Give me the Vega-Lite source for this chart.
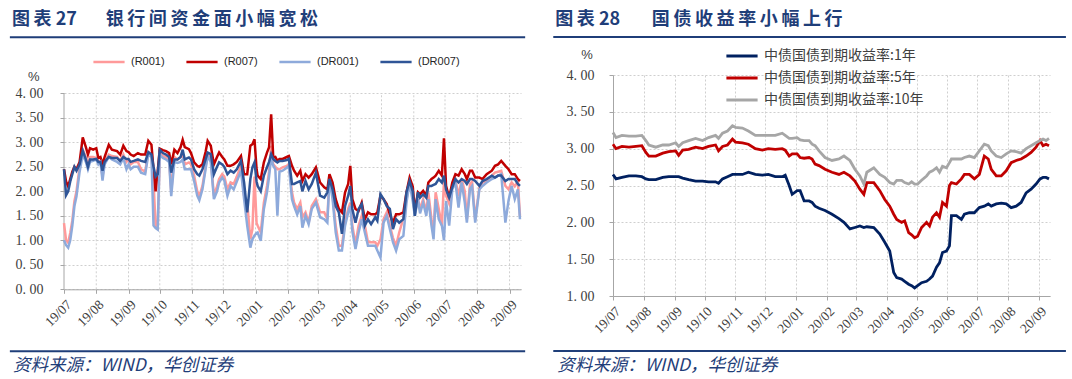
{
"$schema": "https://vega.github.io/schema/vega-lite/v6.json",
"background": "white",
"padding": {"left": 8, "top": 10, "right": 5, "bottom": 0},
"spacing": 25,
"columns": 2,
"align": "none",
"bounds": "full",
"config": {
  "view": {"stroke": null},
  "axis": {"labelFont": "Liberation Serif", "labelFontSize": 14, "labelColor": "#404040", "domainColor": "#a6a6a6", "tickColor": "#a6a6a6", "gridColor": "#cfcfcf", "gridDash": [2, 2], "title": null, "labelOverlap": false},
  "axisX": {"labelOverlap": false, "labelFontSize": 13.5},
  "legend": {"padding": 0}
},
"resolve": {"scale": {"color": "independent", "x": "independent", "y": "independent"}, "legend": {"color": "independent"}},
"concat": [
{
  "width": 457, "height": 214.3,
  "layer": [
    {
      "data": {"values": [{"m":"2019-08-01"},{"m":"2019-09-01"},{"m":"2019-10-01"},{"m":"2019-11-01"},{"m":"2019-12-01"},{"m":"2020-01-01"},{"m":"2020-02-01"},{"m":"2020-03-01"},{"m":"2020-04-01"},{"m":"2020-05-01"},{"m":"2020-06-01"},{"m":"2020-07-01"},{"m":"2020-08-01"},{"m":"2020-09-01"}]},
      "mark": {"type": "rule", "color": "#cfcfcf", "strokeWidth": 1, "strokeDash": [2, 2]},
      "encoding": {"x": {"field": "m", "type": "temporal"}, "y": {"datum": 0, "type": "quantitative"}, "y2": {"datum": 4}}
    },
    {"data": {"values": [{}]}, "mark": {"type": "rule", "color": "#a6a6a6", "strokeWidth": 1},
     "encoding": {"x": {"datum": {"year": 2019, "month": 7, "date": 1, "utc": true}, "type": "temporal"}, "y": {"datum": 0, "type": "quantitative"}, "y2": {"datum": 4}}},
    {
      "data": {"values": [
        {"d":"2019-07-01","R001":1.35,"R007":2.45,"DR001":1.0,"DR007":2.45},
        {"d":"2019-07-03","R001":1.0,"R007":2.2,"DR001":0.9,"DR007":1.92},
        {"d":"2019-07-05","R001":0.95,"R007":2.1,"DR001":0.85,"DR007":2.0},
        {"d":"2019-07-07","R001":1.15,"R007":2.25,"DR001":1.0,"DR007":2.2},
        {"d":"2019-07-09","R001":1.4,"R007":2.4,"DR001":1.3,"DR007":2.35},
        {"d":"2019-07-11","R001":1.8,"R007":2.5,"DR001":1.7,"DR007":2.5},
        {"d":"2019-07-13","R001":2.0,"R007":2.45,"DR001":1.9,"DR007":2.42},
        {"d":"2019-07-16","R001":2.5,"R007":2.6,"DR001":2.4,"DR007":2.55},
        {"d":"2019-07-19","R001":2.85,"R007":3.1,"DR001":2.75,"DR007":2.83},
        {"d":"2019-07-22","R001":2.7,"R007":2.9,"DR001":2.6,"DR007":2.65},
        {"d":"2019-07-24","R001":2.55,"R007":2.75,"DR001":2.45,"DR007":2.5},
        {"d":"2019-07-26","R001":2.7,"R007":2.88,"DR001":2.6,"DR007":2.65},
        {"d":"2019-07-29","R001":2.7,"R007":2.85,"DR001":2.62,"DR007":2.65},
        {"d":"2019-08-01","R001":2.68,"R007":2.88,"DR001":2.65,"DR007":2.66},
        {"d":"2019-08-03","R001":2.6,"R007":2.68,"DR001":2.55,"DR007":2.6},
        {"d":"2019-08-05","R001":2.62,"R007":2.7,"DR001":2.6,"DR007":2.6},
        {"d":"2019-08-07","R001":2.3,"R007":2.55,"DR001":2.22,"DR007":2.42},
        {"d":"2019-08-09","R001":2.6,"R007":2.7,"DR001":2.55,"DR007":2.6},
        {"d":"2019-08-13","R001":2.75,"R007":2.95,"DR001":2.7,"DR007":2.7},
        {"d":"2019-08-16","R001":2.72,"R007":2.85,"DR001":2.65,"DR007":2.68},
        {"d":"2019-08-21","R001":2.7,"R007":2.82,"DR001":2.6,"DR007":2.68},
        {"d":"2019-08-24","R001":2.62,"R007":2.75,"DR001":2.55,"DR007":2.62},
        {"d":"2019-08-27","R001":2.75,"R007":2.93,"DR001":2.68,"DR007":2.7},
        {"d":"2019-08-30","R001":2.6,"R007":2.82,"DR001":2.45,"DR007":2.66},
        {"d":"2019-09-01","R001":2.65,"R007":2.8,"DR001":2.55,"DR007":2.66},
        {"d":"2019-09-03","R001":2.55,"R007":2.75,"DR001":2.45,"DR007":2.6},
        {"d":"2019-09-06","R001":2.6,"R007":2.72,"DR001":2.5,"DR007":2.62},
        {"d":"2019-09-10","R001":2.6,"R007":2.78,"DR001":2.5,"DR007":2.65},
        {"d":"2019-09-13","R001":2.45,"R007":2.75,"DR001":2.38,"DR007":2.62},
        {"d":"2019-09-17","R001":2.4,"R007":2.75,"DR001":2.35,"DR007":2.6},
        {"d":"2019-09-20","R001":2.8,"R007":3.03,"DR001":2.75,"DR007":2.8},
        {"d":"2019-09-23","R001":2.75,"R007":2.95,"DR001":2.7,"DR007":2.75},
        {"d":"2019-09-25","R001":2.2,"R007":2.45,"DR001":1.3,"DR007":2.5},
        {"d":"2019-09-27","R001":1.3,"R007":2.0,"DR001":1.25,"DR007":2.3},
        {"d":"2019-09-29","R001":1.25,"R007":2.4,"DR001":1.22,"DR007":2.35},
        {"d":"2019-10-01","R001":2.8,"R007":2.87,"DR001":2.75,"DR007":2.85},
        {"d":"2019-10-04","R001":2.72,"R007":2.84,"DR001":2.68,"DR007":2.78},
        {"d":"2019-10-07","R001":2.7,"R007":2.82,"DR001":2.65,"DR007":2.75},
        {"d":"2019-10-10","R001":2.65,"R007":2.78,"DR001":2.6,"DR007":2.7},
        {"d":"2019-10-12","R001":2.0,"R007":2.55,"DR001":1.9,"DR007":2.38},
        {"d":"2019-10-15","R001":2.7,"R007":2.85,"DR001":2.6,"DR007":2.65},
        {"d":"2019-10-18","R001":2.65,"R007":2.78,"DR001":2.58,"DR007":2.65},
        {"d":"2019-10-21","R001":2.7,"R007":2.9,"DR001":2.6,"DR007":2.7},
        {"d":"2019-10-23","R001":2.75,"R007":3.05,"DR001":2.65,"DR007":2.85},
        {"d":"2019-10-25","R001":2.55,"R007":2.9,"DR001":2.45,"DR007":2.65},
        {"d":"2019-10-29","R001":2.59,"R007":2.86,"DR001":2.45,"DR007":2.69},
        {"d":"2019-10-31","R001":2.55,"R007":2.78,"DR001":2.45,"DR007":2.65},
        {"d":"2019-11-03","R001":2.32,"R007":2.59,"DR001":2.21,"DR007":2.45},
        {"d":"2019-11-06","R001":2.0,"R007":2.52,"DR001":1.91,"DR007":2.35},
        {"d":"2019-11-08","R001":1.9,"R007":2.5,"DR001":1.82,"DR007":2.32},
        {"d":"2019-11-11","R001":2.11,"R007":2.55,"DR001":2.04,"DR007":2.45},
        {"d":"2019-11-14","R001":2.5,"R007":2.8,"DR001":2.45,"DR007":2.65},
        {"d":"2019-11-16","R001":2.76,"R007":3.03,"DR001":2.72,"DR007":2.79},
        {"d":"2019-11-19","R001":2.66,"R007":2.93,"DR001":2.6,"DR007":2.76},
        {"d":"2019-11-22","R001":1.91,"R007":2.55,"DR001":1.84,"DR007":2.35},
        {"d":"2019-11-25","R001":2.1,"R007":2.7,"DR001":2.0,"DR007":2.5},
        {"d":"2019-11-27","R001":2.25,"R007":2.79,"DR001":2.18,"DR007":2.59},
        {"d":"2019-11-30","R001":2.35,"R007":2.7,"DR001":2.28,"DR007":2.55},
        {"d":"2019-12-02","R001":2.3,"R007":2.65,"DR001":2.22,"DR007":2.5},
        {"d":"2019-12-05","R001":2.04,"R007":2.52,"DR001":1.91,"DR007":2.35},
        {"d":"2019-12-08","R001":2.18,"R007":2.52,"DR001":2.11,"DR007":2.42},
        {"d":"2019-12-11","R001":2.15,"R007":2.55,"DR001":2.04,"DR007":2.38},
        {"d":"2019-12-14","R001":2.3,"R007":2.6,"DR001":2.2,"DR007":2.45},
        {"d":"2019-12-18","R001":2.52,"R007":2.72,"DR001":2.42,"DR007":2.62},
        {"d":"2019-12-21","R001":1.91,"R007":2.35,"DR001":1.84,"DR007":2.18},
        {"d":"2019-12-24","R001":1.77,"R007":2.35,"DR001":1.3,"DR007":1.57},
        {"d":"2019-12-27","R001":1.02,"R007":2.93,"DR001":0.85,"DR007":2.25},
        {"d":"2019-12-29","R001":1.23,"R007":2.96,"DR001":1.02,"DR007":2.49},
        {"d":"2019-12-31","R001":2.3,"R007":3.06,"DR001":1.1,"DR007":2.59},
        {"d":"2020-01-02","R001":1.35,"R007":2.45,"DR001":1.15,"DR007":2.2},
        {"d":"2020-01-03","R001":1.3,"R007":2.32,"DR001":1.16,"DR007":2.11},
        {"d":"2020-01-06","R001":1.16,"R007":2.25,"DR001":0.99,"DR007":2.0},
        {"d":"2020-01-09","R001":1.77,"R007":2.59,"DR001":1.64,"DR007":2.32},
        {"d":"2020-01-12","R001":2.11,"R007":2.79,"DR001":1.98,"DR007":2.49},
        {"d":"2020-01-14","R001":2.4,"R007":2.9,"DR001":2.3,"DR007":2.6},
        {"d":"2020-01-16","R001":2.93,"R007":3.57,"DR001":2.69,"DR007":2.76},
        {"d":"2020-01-18","R001":2.55,"R007":2.69,"DR001":2.52,"DR007":2.66},
        {"d":"2020-01-20","R001":2.5,"R007":2.7,"DR001":2.45,"DR007":2.62},
        {"d":"2020-01-22","R001":2.45,"R007":2.62,"DR001":1.5,"DR007":2.59},
        {"d":"2020-01-24","R001":2.45,"R007":2.66,"DR001":2.4,"DR007":2.62},
        {"d":"2020-01-27","R001":2.49,"R007":2.66,"DR001":2.42,"DR007":2.62},
        {"d":"2020-01-31","R001":2.52,"R007":2.7,"DR001":2.48,"DR007":2.64},
        {"d":"2020-02-02","R001":2.55,"R007":2.72,"DR001":2.52,"DR007":2.66},
        {"d":"2020-02-05","R001":1.98,"R007":2.52,"DR001":1.84,"DR007":2.15},
        {"d":"2020-02-07","R001":1.77,"R007":2.42,"DR001":1.7,"DR007":2.15},
        {"d":"2020-02-10","R001":1.64,"R007":2.32,"DR001":1.53,"DR007":2.18},
        {"d":"2020-02-13","R001":1.77,"R007":2.42,"DR001":1.7,"DR007":2.21},
        {"d":"2020-02-15","R001":1.47,"R007":2.21,"DR001":1.26,"DR007":2.0},
        {"d":"2020-02-18","R001":1.57,"R007":2.35,"DR001":1.5,"DR007":2.21},
        {"d":"2020-02-21","R001":1.36,"R007":2.28,"DR001":1.33,"DR007":2.04},
        {"d":"2020-02-24","R001":1.7,"R007":2.35,"DR001":1.64,"DR007":2.15},
        {"d":"2020-02-28","R001":1.84,"R007":2.49,"DR001":1.77,"DR007":2.38},
        {"d":"2020-03-03","R001":1.57,"R007":2.18,"DR001":1.47,"DR007":1.91},
        {"d":"2020-03-07","R001":1.57,"R007":2.08,"DR001":1.43,"DR007":1.87},
        {"d":"2020-03-10","R001":1.43,"R007":2.04,"DR001":1.36,"DR007":1.98},
        {"d":"2020-03-12","R001":2.32,"R007":2.35,"DR001":2.25,"DR007":2.25},
        {"d":"2020-03-15","R001":1.91,"R007":2.18,"DR001":1.84,"DR007":2.04},
        {"d":"2020-03-18","R001":1.3,"R007":1.84,"DR001":1.16,"DR007":1.7},
        {"d":"2020-03-21","R001":0.89,"R007":1.64,"DR001":0.79,"DR007":1.57},
        {"d":"2020-03-24","R001":0.89,"R007":1.57,"DR001":0.79,"DR007":1.13},
        {"d":"2020-03-27","R001":1.36,"R007":1.98,"DR001":1.3,"DR007":1.7},
        {"d":"2020-03-30","R001":1.64,"R007":2.15,"DR001":1.57,"DR007":1.91},
        {"d":"2020-04-01","R001":1.77,"R007":2.52,"DR001":1.7,"DR007":2.11},
        {"d":"2020-04-03","R001":1.3,"R007":1.84,"DR001":1.19,"DR007":1.64},
        {"d":"2020-04-06","R001":0.92,"R007":1.64,"DR001":0.82,"DR007":1.36},
        {"d":"2020-04-09","R001":1.3,"R007":1.6,"DR001":1.16,"DR007":1.64},
        {"d":"2020-04-12","R001":1.5,"R007":1.77,"DR001":1.43,"DR007":1.74},
        {"d":"2020-04-15","R001":1.3,"R007":1.43,"DR001":1.16,"DR007":1.3},
        {"d":"2020-04-18","R001":0.96,"R007":1.57,"DR001":0.89,"DR007":1.43},
        {"d":"2020-04-21","R001":0.96,"R007":1.53,"DR001":0.89,"DR007":1.33},
        {"d":"2020-04-25","R001":0.96,"R007":1.53,"DR001":0.89,"DR007":1.47},
        {"d":"2020-04-27","R001":0.89,"R007":1.57,"DR001":0.79,"DR007":1.4},
        {"d":"2020-04-30","R001":1.02,"R007":1.91,"DR001":0.65,"DR007":1.94},
        {"d":"2020-05-03","R001":1.43,"R007":1.84,"DR001":1.36,"DR007":1.84},
        {"d":"2020-05-06","R001":1.57,"R007":1.74,"DR001":1.5,"DR007":1.7},
        {"d":"2020-05-09","R001":1.3,"R007":1.53,"DR001":1.23,"DR007":1.64},
        {"d":"2020-05-12","R001":1.05,"R007":1.36,"DR001":0.96,"DR007":1.23},
        {"d":"2020-05-15","R001":0.89,"R007":1.53,"DR001":0.79,"DR007":1.43},
        {"d":"2020-05-18","R001":1.16,"R007":1.53,"DR001":1.02,"DR007":1.36},
        {"d":"2020-05-22","R001":1.45,"R007":1.57,"DR001":1.09,"DR007":1.43},
        {"d":"2020-05-25","R001":1.84,"R007":1.98,"DR001":1.77,"DR007":1.98},
        {"d":"2020-05-28","R001":2.2,"R007":2.28,"DR001":2.18,"DR007":2.21},
        {"d":"2020-05-31","R001":1.9,"R007":2.1,"DR001":1.8,"DR007":2.0},
        {"d":"2020-06-02","R001":1.55,"R007":1.6,"DR001":1.5,"DR007":1.5},
        {"d":"2020-06-05","R001":1.84,"R007":1.98,"DR001":1.84,"DR007":1.98},
        {"d":"2020-06-07","R001":1.64,"R007":1.94,"DR001":1.55,"DR007":1.87},
        {"d":"2020-06-10","R001":1.84,"R007":2.01,"DR001":1.77,"DR007":1.94},
        {"d":"2020-06-13","R001":1.57,"R007":1.91,"DR001":1.5,"DR007":1.87},
        {"d":"2020-06-15","R001":1.98,"R007":2.18,"DR001":1.84,"DR007":2.11},
        {"d":"2020-06-18","R001":1.43,"R007":2.25,"DR001":1.3,"DR007":2.11},
        {"d":"2020-06-20","R001":1.2,"R007":2.28,"DR001":1.02,"DR007":2.13},
        {"d":"2020-06-22","R001":1.98,"R007":2.32,"DR001":1.84,"DR007":2.15},
        {"d":"2020-06-25","R001":1.64,"R007":2.42,"DR001":1.43,"DR007":2.25},
        {"d":"2020-06-28","R001":1.3,"R007":2.32,"DR001":1.3,"DR007":2.18},
        {"d":"2020-06-30","R001":2.2,"R007":3.08,"DR001":1.0,"DR007":2.32},
        {"d":"2020-07-02","R001":1.91,"R007":2.11,"DR001":1.8,"DR007":2.04},
        {"d":"2020-07-05","R001":1.75,"R007":1.87,"DR001":1.3,"DR007":1.87},
        {"d":"2020-07-08","R001":2.1,"R007":2.18,"DR001":2.04,"DR007":2.08},
        {"d":"2020-07-11","R001":2.25,"R007":2.35,"DR001":2.18,"DR007":2.25},
        {"d":"2020-07-14","R001":1.9,"R007":2.32,"DR001":1.67,"DR007":2.18},
        {"d":"2020-07-17","R001":2.25,"R007":2.45,"DR001":2.18,"DR007":2.25},
        {"d":"2020-07-20","R001":2.0,"R007":2.35,"DR001":1.77,"DR007":2.21},
        {"d":"2020-07-22","R001":1.43,"R007":2.25,"DR001":1.36,"DR007":2.15},
        {"d":"2020-07-25","R001":2.15,"R007":2.42,"DR001":2.05,"DR007":2.25},
        {"d":"2020-07-27","R001":2.2,"R007":2.42,"DR001":2.11,"DR007":2.25},
        {"d":"2020-07-30","R001":1.43,"R007":2.28,"DR001":1.36,"DR007":2.21},
        {"d":"2020-08-03","R001":2.07,"R007":2.28,"DR001":2.04,"DR007":2.11},
        {"d":"2020-08-06","R001":2.18,"R007":2.25,"DR001":2.11,"DR007":2.21},
        {"d":"2020-08-10","R001":2.21,"R007":2.35,"DR001":2.18,"DR007":2.25},
        {"d":"2020-08-15","R001":2.32,"R007":2.42,"DR001":2.25,"DR007":2.32},
        {"d":"2020-08-18","R001":2.38,"R007":2.52,"DR001":2.28,"DR007":2.28},
        {"d":"2020-08-21","R001":2.4,"R007":2.55,"DR001":2.32,"DR007":2.32},
        {"d":"2020-08-24","R001":2.42,"R007":2.62,"DR001":2.35,"DR007":2.32},
        {"d":"2020-08-28","R001":2.11,"R007":2.52,"DR001":1.36,"DR007":2.21},
        {"d":"2020-08-31","R001":2.04,"R007":2.45,"DR001":1.81,"DR007":2.25},
        {"d":"2020-09-03","R001":2.18,"R007":2.35,"DR001":2.11,"DR007":2.25},
        {"d":"2020-09-06","R001":2.1,"R007":2.35,"DR001":1.84,"DR007":2.25},
        {"d":"2020-09-09","R001":2.2,"R007":2.25,"DR001":2.04,"DR007":2.15},
        {"d":"2020-09-11","R001":1.5,"R007":2.21,"DR001":1.43,"DR007":2.11}
      ]},
      "transform": [{"fold": ["R001", "R007", "DR001", "DR007"], "as": ["s", "v"]}],
      "mark": {"type": "line", "strokeWidth": 2.5},
      "encoding": {
        "x": {"field": "d", "type": "temporal",
          "scale": {"type": "utc", "nice": false, "domain": [{"year": 2019, "month": 7, "date": 1, "utc": true}, {"year": 2020, "month": 9, "date": 12, "utc": true}]},
          "axis": {"tickCount": {"interval": "month", "step": 1}, "format": "%y/%m", "labelAngle": -45, "labelOverlap": false, "grid": false, "tickSize": 4, "labelPadding": 4}},
        "y": {"field": "v", "type": "quantitative",
          "scale": {"domain": [0, 4.3735], "nice": false, "zero": false},
          "axis": {"tickCount": 9, "labelExpr": "replace(format(datum.value, '.2f'), '.', '. ')", "grid": true, "domain": false, "tickSize": 4, "labelPadding": 17}},
        "color": {"field": "s", "type": "nominal",
          "scale": {"domain": ["R001", "R007", "DR001", "DR007"], "range": ["#ff9a9a", "#c00000", "#8eaadb", "#2f5597"]},
          "legend": {"orient": "none", "legendX": 37, "legendY": -21, "direction": "horizontal", "gridAlign": "none", "title": null, "symbolType": "M-2.4,0H2.4", "symbolSize": 169, "symbolStrokeWidth": 2.5, "labelExpr": "'(' + datum.label + ')'", "labelFont": "Liberation Sans", "labelFontSize": 11, "labelColor": "#262626", "labelOffset": 14, "columnPadding": 16}}
      }
    },
    {"data": {"values": [{}]}, "mark": {"type": "text", "align": "left", "baseline": "alphabetic", "font": "Noto Sans CJK SC", "fontWeight": "bold", "fontSize": 18, "color": "#1f3e79", "text": "图\u2009表 27"},
     "encoding": {"x": {"datum": {"year": 2019, "month": 5, "date": 12, "utc": true}, "type": "temporal"}, "y": {"datum": 5.39, "type": "quantitative"}}},
    {"data": {"values": [{}]}, "mark": {"type": "text", "align": "left", "baseline": "alphabetic", "font": "Noto Sans CJK SC", "fontWeight": "bold", "fontSize": 18, "color": "#1f3e79", "text": "银\u2009行\u2009间\u2009资\u2009金\u2009面\u2009小\u2009幅\u2009宽\u2009松"},
     "encoding": {"x": {"datum": {"year": 2019, "month": 8, "date": 10, "utc": true}, "type": "temporal"}, "y": {"datum": 5.39, "type": "quantitative"}}},
    {"data": {"values": [{}]}, "mark": {"type": "rule", "color": "#1f3e79", "strokeWidth": 2},
     "encoding": {"x": {"datum": {"year": 2019, "month": 5, "date": 10, "utc": true}, "type": "temporal"}, "x2": {"datum": {"year": 2020, "month": 9, "date": 16, "utc": true}}, "y": {"datum": 5.143, "type": "quantitative"}}},
    {"data": {"values": [{}]}, "mark": {"type": "rule", "color": "#1f3e79", "strokeWidth": 2},
     "encoding": {"x": {"datum": {"year": 2019, "month": 5, "date": 10, "utc": true}, "type": "temporal"}, "x2": {"datum": {"year": 2020, "month": 9, "date": 16, "utc": true}}, "y": {"datum": -1.265, "type": "quantitative"}}},
    {"data": {"values": [{}]}, "mark": {"type": "text", "align": "left", "baseline": "alphabetic", "font": "Noto Sans CJK SC", "fontStyle": "italic", "fontSize": 17.5, "color": "#1f3e79", "text": "资料来源：WIND，华创证券"},
     "encoding": {"x": {"datum": {"year": 2019, "month": 5, "date": 13, "utc": true}, "type": "temporal"}, "y": {"datum": -1.673, "type": "quantitative"}}},
    {"data": {"values": [{}]}, "mark": {"type": "text", "align": "center", "baseline": "middle", "font": "Liberation Sans", "fontSize": 13, "color": "#404040", "text": "%"},
     "encoding": {"x": {"datum": {"year": 2019, "month": 6, "date": 2, "utc": true}, "type": "temporal"}, "y": {"datum": 4.33, "type": "quantitative"}}}
  ]
},
{
  "width": 437, "height": 221,
  "layer": [
    {
      "data": {"values": [
        {"d":"2019-07-01","Y1":2.65,"Y5":3.06,"Y10":3.22},
        {"d":"2019-07-04","Y1":2.59,"Y5":3.0,"Y10":3.15},
        {"d":"2019-07-10","Y1":2.61,"Y5":3.03,"Y10":3.18},
        {"d":"2019-07-17","Y1":2.63,"Y5":3.02,"Y10":3.17},
        {"d":"2019-07-24","Y1":2.63,"Y5":3.03,"Y10":3.17},
        {"d":"2019-07-30","Y1":2.62,"Y5":3.04,"Y10":3.18},
        {"d":"2019-08-03","Y1":2.59,"Y5":2.95,"Y10":3.11},
        {"d":"2019-08-06","Y1":2.58,"Y5":2.9,"Y10":3.05},
        {"d":"2019-08-13","Y1":2.58,"Y5":2.9,"Y10":3.02},
        {"d":"2019-08-20","Y1":2.61,"Y5":2.94,"Y10":3.05},
        {"d":"2019-08-26","Y1":2.62,"Y5":2.96,"Y10":3.05},
        {"d":"2019-09-02","Y1":2.62,"Y5":2.97,"Y10":3.08},
        {"d":"2019-09-05","Y1":2.62,"Y5":2.91,"Y10":3.03},
        {"d":"2019-09-09","Y1":2.6,"Y5":2.98,"Y10":3.08},
        {"d":"2019-09-15","Y1":2.58,"Y5":2.99,"Y10":3.11},
        {"d":"2019-09-22","Y1":2.56,"Y5":3.02,"Y10":3.14},
        {"d":"2019-09-29","Y1":2.56,"Y5":3.0,"Y10":3.11},
        {"d":"2019-10-05","Y1":2.55,"Y5":3.03,"Y10":3.15},
        {"d":"2019-10-12","Y1":2.55,"Y5":3.05,"Y10":3.18},
        {"d":"2019-10-15","Y1":2.53,"Y5":2.97,"Y10":3.14},
        {"d":"2019-10-19","Y1":2.59,"Y5":3.03,"Y10":3.21},
        {"d":"2019-10-24","Y1":2.62,"Y5":3.05,"Y10":3.24},
        {"d":"2019-10-29","Y1":2.65,"Y5":3.13,"Y10":3.31},
        {"d":"2019-11-01","Y1":2.65,"Y5":3.09,"Y10":3.29},
        {"d":"2019-11-08","Y1":2.65,"Y5":3.08,"Y10":3.28},
        {"d":"2019-11-14","Y1":2.68,"Y5":3.06,"Y10":3.24},
        {"d":"2019-11-21","Y1":2.65,"Y5":3.0,"Y10":3.18},
        {"d":"2019-11-28","Y1":2.64,"Y5":2.98,"Y10":3.18},
        {"d":"2019-12-04","Y1":2.65,"Y5":3.0,"Y10":3.18},
        {"d":"2019-12-11","Y1":2.62,"Y5":2.99,"Y10":3.18},
        {"d":"2019-12-18","Y1":2.62,"Y5":3.0,"Y10":3.21},
        {"d":"2019-12-21","Y1":2.64,"Y5":2.98,"Y10":3.18},
        {"d":"2019-12-25","Y1":2.5,"Y5":2.9,"Y10":3.14},
        {"d":"2019-12-28","Y1":2.38,"Y5":2.93,"Y10":3.14},
        {"d":"2020-01-02","Y1":2.43,"Y5":2.93,"Y10":3.15},
        {"d":"2020-01-05","Y1":2.43,"Y5":2.88,"Y10":3.12},
        {"d":"2020-01-09","Y1":2.29,"Y5":2.87,"Y10":3.11},
        {"d":"2020-01-14","Y1":2.29,"Y5":2.88,"Y10":3.11},
        {"d":"2020-01-17","Y1":2.27,"Y5":2.86,"Y10":3.06},
        {"d":"2020-01-20","Y1":2.22,"Y5":2.79,"Y10":3.04},
        {"d":"2020-01-24","Y1":2.19,"Y5":2.77,"Y10":2.97},
        {"d":"2020-01-30","Y1":2.16,"Y5":2.72,"Y10":2.88},
        {"d":"2020-02-06","Y1":2.11,"Y5":2.68,"Y10":2.84},
        {"d":"2020-02-13","Y1":2.05,"Y5":2.65,"Y10":2.86},
        {"d":"2020-02-18","Y1":2.0,"Y5":2.68,"Y10":2.9},
        {"d":"2020-02-24","Y1":1.91,"Y5":2.63,"Y10":2.84},
        {"d":"2020-02-29","Y1":1.93,"Y5":2.56,"Y10":2.72},
        {"d":"2020-03-05","Y1":1.95,"Y5":2.45,"Y10":2.63},
        {"d":"2020-03-09","Y1":1.93,"Y5":2.38,"Y10":2.52},
        {"d":"2020-03-12","Y1":1.94,"Y5":2.54,"Y10":2.68},
        {"d":"2020-03-19","Y1":1.93,"Y5":2.54,"Y10":2.74},
        {"d":"2020-03-25","Y1":1.84,"Y5":2.43,"Y10":2.65},
        {"d":"2020-03-30","Y1":1.73,"Y5":2.31,"Y10":2.61},
        {"d":"2020-04-04","Y1":1.61,"Y5":2.22,"Y10":2.54},
        {"d":"2020-04-08","Y1":1.32,"Y5":2.11,"Y10":2.52},
        {"d":"2020-04-11","Y1":1.25,"Y5":2.04,"Y10":2.57},
        {"d":"2020-04-16","Y1":1.23,"Y5":2.0,"Y10":2.57},
        {"d":"2020-04-19","Y1":1.2,"Y5":2.02,"Y10":2.54},
        {"d":"2020-04-23","Y1":1.16,"Y5":1.86,"Y10":2.52},
        {"d":"2020-04-26","Y1":1.14,"Y5":1.83,"Y10":2.55},
        {"d":"2020-04-29","Y1":1.11,"Y5":1.79,"Y10":2.52},
        {"d":"2020-05-02","Y1":1.14,"Y5":1.81,"Y10":2.52},
        {"d":"2020-05-06","Y1":1.18,"Y5":1.93,"Y10":2.57},
        {"d":"2020-05-11","Y1":1.2,"Y5":2.0,"Y10":2.63},
        {"d":"2020-05-14","Y1":1.23,"Y5":1.95,"Y10":2.68},
        {"d":"2020-05-17","Y1":1.27,"Y5":2.07,"Y10":2.7},
        {"d":"2020-05-21","Y1":1.39,"Y5":2.13,"Y10":2.74},
        {"d":"2020-05-24","Y1":1.45,"Y5":2.07,"Y10":2.68},
        {"d":"2020-05-27","Y1":1.59,"Y5":2.27,"Y10":2.76},
        {"d":"2020-05-31","Y1":1.61,"Y5":2.22,"Y10":2.74},
        {"d":"2020-06-03","Y1":1.68,"Y5":2.5,"Y10":2.81},
        {"d":"2020-06-05","Y1":2.09,"Y5":2.54,"Y10":2.86},
        {"d":"2020-06-10","Y1":2.09,"Y5":2.52,"Y10":2.86},
        {"d":"2020-06-15","Y1":2.04,"Y5":2.59,"Y10":2.86},
        {"d":"2020-06-18","Y1":2.11,"Y5":2.65,"Y10":2.88},
        {"d":"2020-06-23","Y1":2.13,"Y5":2.65,"Y10":2.9},
        {"d":"2020-06-28","Y1":2.13,"Y5":2.59,"Y10":2.88},
        {"d":"2020-07-03","Y1":2.2,"Y5":2.65,"Y10":2.97},
        {"d":"2020-07-08","Y1":2.22,"Y5":2.9,"Y10":3.06},
        {"d":"2020-07-12","Y1":2.25,"Y5":2.86,"Y10":3.04},
        {"d":"2020-07-15","Y1":2.22,"Y5":2.72,"Y10":2.97},
        {"d":"2020-07-20","Y1":2.25,"Y5":2.63,"Y10":2.9},
        {"d":"2020-07-25","Y1":2.26,"Y5":2.63,"Y10":2.88},
        {"d":"2020-07-30","Y1":2.25,"Y5":2.7,"Y10":2.93},
        {"d":"2020-08-04","Y1":2.2,"Y5":2.81,"Y10":2.97},
        {"d":"2020-08-09","Y1":2.22,"Y5":2.84,"Y10":2.96},
        {"d":"2020-08-14","Y1":2.27,"Y5":2.86,"Y10":2.94},
        {"d":"2020-08-19","Y1":2.4,"Y5":2.9,"Y10":3.0},
        {"d":"2020-08-24","Y1":2.45,"Y5":2.95,"Y10":3.04},
        {"d":"2020-08-29","Y1":2.52,"Y5":3.02,"Y10":3.08},
        {"d":"2020-09-02","Y1":2.59,"Y5":3.11,"Y10":3.11},
        {"d":"2020-09-05","Y1":2.61,"Y5":3.04,"Y10":3.13},
        {"d":"2020-09-08","Y1":2.61,"Y5":3.06,"Y10":3.11},
        {"d":"2020-09-11","Y1":2.59,"Y5":3.04,"Y10":3.14}
      ]},
      "transform": [{"fold": ["Y1", "Y5", "Y10"], "as": ["s", "v"]}],
      "mark": {"type": "line", "strokeWidth": 2.8},
      "encoding": {
        "x": {"field": "d", "type": "temporal",
          "scale": {"type": "utc", "nice": false, "domain": [{"year": 2019, "month": 7, "date": 1, "utc": true}, {"year": 2020, "month": 9, "date": 12, "utc": true}]},
          "axis": {"tickCount": {"interval": "month", "step": 1}, "format": "%y/%m", "labelAngle": -45, "labelOverlap": false, "grid": true, "tickSize": 4, "labelPadding": 4}},
        "y": {"field": "v", "type": "quantitative",
          "scale": {"domain": [1, 4], "nice": false, "zero": false},
          "axis": {"tickCount": 7, "labelExpr": "replace(format(datum.value, '.2f'), '.', '. ')", "grid": true, "tickSize": 4, "labelPadding": 15}},
        "color": {"field": "s", "type": "nominal",
          "scale": {"domain": ["Y1", "Y5", "Y10"], "range": ["#002060", "#c00000", "#a6a6a6"]},
          "legend": {"orient": "none", "legendX": 121, "legendY": -27, "direction": "vertical", "title": null, "symbolType": "M-2.4,0H2.4", "symbolSize": 169, "symbolStrokeWidth": 3, "labelExpr": "datum.label == 'Y1' ? '中债国债到期收益率:1年' : datum.label == 'Y5' ? '中债国债到期收益率:5年' : '中债国债到期收益率:10年'", "labelFont": "Noto Sans CJK SC", "labelFontSize": 14, "labelColor": "#404040", "labelOffset": 14, "labelLimit": 300, "rowPadding": 7}}
      }
    },
    {"data": {"values": [{}]}, "mark": {"type": "text", "align": "left", "baseline": "alphabetic", "font": "Noto Sans CJK SC", "fontWeight": "bold", "fontSize": 18, "color": "#1f3e79", "text": "图\u2009表 28"},
     "encoding": {"x": {"datum": {"year": 2019, "month": 5, "date": 4, "utc": true}, "type": "temporal"}, "y": {"datum": 4.679, "type": "quantitative"}}},
    {"data": {"values": [{}]}, "mark": {"type": "text", "align": "left", "baseline": "alphabetic", "font": "Noto Sans CJK SC", "fontWeight": "bold", "fontSize": 18, "color": "#1f3e79", "text": "国\u2009债\u2009收\u2009益\u2009率\u2009小\u2009幅\u2009上\u2009行"},
     "encoding": {"x": {"datum": {"year": 2019, "month": 8, "date": 9, "utc": true}, "type": "temporal"}, "y": {"datum": 4.679, "type": "quantitative"}}},
    {"data": {"values": [{}]}, "mark": {"type": "rule", "color": "#1f3e79", "strokeWidth": 2},
     "encoding": {"x": {"datum": {"year": 2019, "month": 5, "date": 2, "utc": true}, "type": "temporal"}, "x2": {"datum": {"year": 2020, "month": 9, "date": 28, "utc": true}}, "y": {"datum": 4.516, "type": "quantitative"}}},
    {"data": {"values": [{}]}, "mark": {"type": "rule", "color": "#1f3e79", "strokeWidth": 2},
     "encoding": {"x": {"datum": {"year": 2019, "month": 5, "date": 2, "utc": true}, "type": "temporal"}, "x2": {"datum": {"year": 2020, "month": 9, "date": 28, "utc": true}}, "y": {"datum": 0.2535, "type": "quantitative"}}},
    {"data": {"values": [{}]}, "mark": {"type": "text", "align": "left", "baseline": "alphabetic", "font": "Noto Sans CJK SC", "fontStyle": "italic", "fontSize": 17.5, "color": "#1f3e79", "text": "资料来源：WIND，华创证券"},
     "encoding": {"x": {"datum": {"year": 2019, "month": 5, "date": 6, "utc": true}, "type": "temporal"}, "y": {"datum": -0.018, "type": "quantitative"}}},
    {"data": {"values": [{}]}, "mark": {"type": "text", "align": "center", "baseline": "middle", "font": "Liberation Sans", "fontSize": 13, "color": "#404040", "text": "%"},
     "encoding": {"x": {"datum": {"year": 2019, "month": 6, "date": 5, "utc": true}, "type": "temporal"}, "y": {"datum": 4.2715, "type": "quantitative"}}}
  ]
}
]
}
